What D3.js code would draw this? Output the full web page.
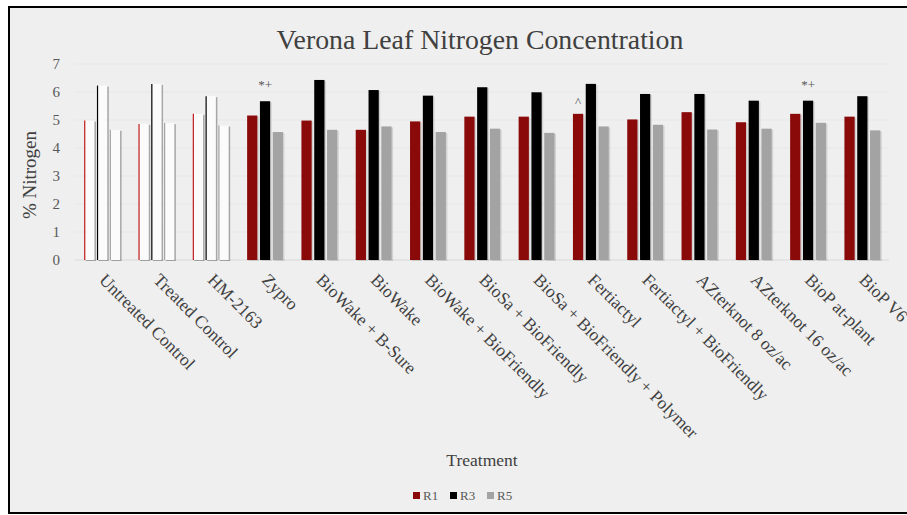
<!DOCTYPE html>
<meta charset="utf-8">
<head>
    <script src="https://d3js.org/d3.v7.min.js"></script>
    <title>Verona Leaf Nitrogen Concentration</title>
    <style>
        body { margin: 0; background: #fff; }
    </style>
</head>
<body>
    <svg width="907" height="515"></svg>
    <script>
        // treatments on the x axis
        var treatments = ["Untreated Control", "Treated Control", "HM-2163", "Zypro", "BioWake + B-Sure",
            "BioWake", "BioWake + BioFriendly", "BioSa + BioFriendly", "BioSa + BioFriendly + Polymer",
            "Fertiactyl", "Fertiactyl + BioFriendly", "AZterknot 8 oz/ac", "AZterknot 16 oz/ac",
            "BioP at-plant", "BioP V6"]
        var series = ["R1", "R3", "R5"]
        var r1 = [4.98, 4.86, 5.22, 5.16, 4.98, 4.65, 4.95, 5.12, 5.12, 5.22, 5.02, 5.28, 4.92, 5.22, 5.12]
        var r3 = [6.23, 6.29, 5.85, 5.67, 6.43, 6.07, 5.87, 6.17, 5.99, 6.29, 5.93, 5.93, 5.69, 5.69, 5.85]
        var r5 = [4.65, 4.89, 4.80, 4.57, 4.65, 4.77, 4.57, 4.69, 4.54, 4.77, 4.83, 4.66, 4.69, 4.90, 4.63]
        // control groups are drawn hollow
        var hollow = ["Untreated Control", "Treated Control", "HM-2163"]
        var yTicks = [0, 1, 2, 3, 4, 5, 6, 7]
        var notes = [
            { treatment: "Zypro", series: "R3", text: "*+" },
            { treatment: "Fertiactyl", series: "R1", text: "^" },
            { treatment: "BioP at-plant", series: "R3", text: "*+" }
        ]
        var colors = { "R1": "#8a0a0a", "R3": "#000000", "R5": "#a3a3a3" }
        var serif = "Liberation Serif"

        var valueOf = { "R1": r1, "R3": r3, "R5": r5 }
        var rows = []
        treatments.forEach((t, i) => {
            series.forEach(s => rows.push({ treatment: t, series: s, value: valueOf[s][i] }))
        })

        var svg = d3.select("svg").attr("font-family", serif)

        // chart box
        svg.append("rect")
            .attr("x", 9).attr("y", 7)
            .attr("width", 920).attr("height", 506)
            .attr("fill", "#efefef")
            .attr("stroke", "#000")
            .attr("stroke-width", 2)

        var x = d3.scaleBand()
            .domain(treatments)
            .range([75, 889.5])
            .paddingInner(0.34)
            .paddingOuter(0.17)

        var xs = d3.scaleBand()
            .domain(series)
            .range([0, x.bandwidth()])
            .paddingInner(0.2)

        var y = d3.scaleLinear()
            .domain([0, 7])
            .range([260, 64])

        // faint gridlines
        svg.append("g")
            .selectAll("line")
            .data(yTicks)
            .enter().append("line")
            .attr("x1", 75).attr("x2", 889)
            .attr("y1", d => y(d)).attr("y2", d => y(d))
            .attr("stroke", d => d == 0 ? "#d9d9d9" : "#e7e7e7")
            .attr("stroke-width", 1)

        // y axis labels
        var yAxis = svg.append("g")
            .attr("transform", "translate(60,0)")
            .call(d3.axisLeft(y).tickValues(yTicks).tickFormat(d3.format("d")).tickSize(0).tickPadding(0))
        yAxis.attr("font-family", serif).attr("font-size", 15)
        yAxis.select(".domain").remove()
        yAxis.selectAll("text").attr("fill", "#595959")

        svg.append("text")
            .attr("transform", "translate(36,175) rotate(-90)")
            .attr("text-anchor", "middle")
            .attr("font-size", 19)
            .attr("fill", "#404040")
            .text("% Nitrogen")

        // bars
        var bars = svg.append("g")
            .selectAll("g")
            .data(rows)
            .enter().append("g")
            .attr("transform", d => "translate(" + (x(d.treatment) + xs(d.series)) + ",0)")

        // soft shadow on the right of each bar
        bars.append("rect")
            .attr("x", 1.5)
            .attr("y", d => y(d.value) + 1)
            .attr("width", xs.bandwidth())
            .attr("height", d => y(0) - y(d.value))
            .attr("fill", "#000")
            .attr("opacity", d => hollow.includes(d.treatment) ? 0.3 : 0.12)

        bars.append("rect")
            .attr("y", d => y(d.value))
            .attr("width", xs.bandwidth())
            .attr("height", d => y(0) - y(d.value))
            .attr("fill", d => hollow.includes(d.treatment) ? "#fbfbfb" : colors[d.series])

        bars.filter(d => hollow.includes(d.treatment))
            .append("line")
            .attr("x1", 0.5).attr("x2", 0.5)
            .attr("y1", d => y(d.value)).attr("y2", y(0))
            .attr("stroke", d => d.series == "R1" ? "#c0181a" : colors[d.series])
            .attr("stroke-width", 1.2)

        // notes above bars
        svg.append("g")
            .selectAll("text")
            .data(notes)
            .enter().append("text")
            .attr("x", d => x(d.treatment) + xs(d.series) + xs.bandwidth() / 2)
            .attr("y", d => {
                var i = treatments.indexOf(d.treatment)
                return y(valueOf[d.series][i]) - (d.text == "^" ? 8 : 12)
            })
            .attr("text-anchor", "middle")
            .attr("font-size", 13)
            .attr("fill", "#555")
            .text(d => d.text)

        // x labels, rotated
        svg.append("g")
            .selectAll("text")
            .data(treatments)
            .enter().append("text")
            .attr("transform", d => "translate(" + (x(d) + x.bandwidth() / 2 - 4) + ",281) rotate(45)")
            .attr("text-anchor", "start")
            .attr("font-size", 17.5)
            .attr("fill", "#404040")
            .text(d => d)

        // title
        svg.append("text")
            .attr("x", 480).attr("y", 49)
            .attr("text-anchor", "middle")
            .attr("font-size", 27.8)
            .attr("fill", "#404040")
            .text("Verona Leaf Nitrogen Concentration")

        svg.append("text")
            .attr("x", 482).attr("y", 466)
            .attr("text-anchor", "middle")
            .attr("font-size", 17.5)
            .attr("fill", "#404040")
            .text("Treatment")

        // legend
        var legend = svg.append("g")
            .selectAll("g")
            .data(series)
            .enter().append("g")
            .attr("transform", (d, i) => "translate(" + (413 + i * 37) + ",500)")
        legend.append("rect")
            .attr("x", 0).attr("y", -8)
            .attr("width", 7).attr("height", 7)
            .attr("fill", d => colors[d])
        legend.append("text")
            .attr("x", 10).attr("y", 0)
            .attr("font-size", 13)
            .attr("fill", "#595959")
            .text(d => d)
    </script>
</body>
